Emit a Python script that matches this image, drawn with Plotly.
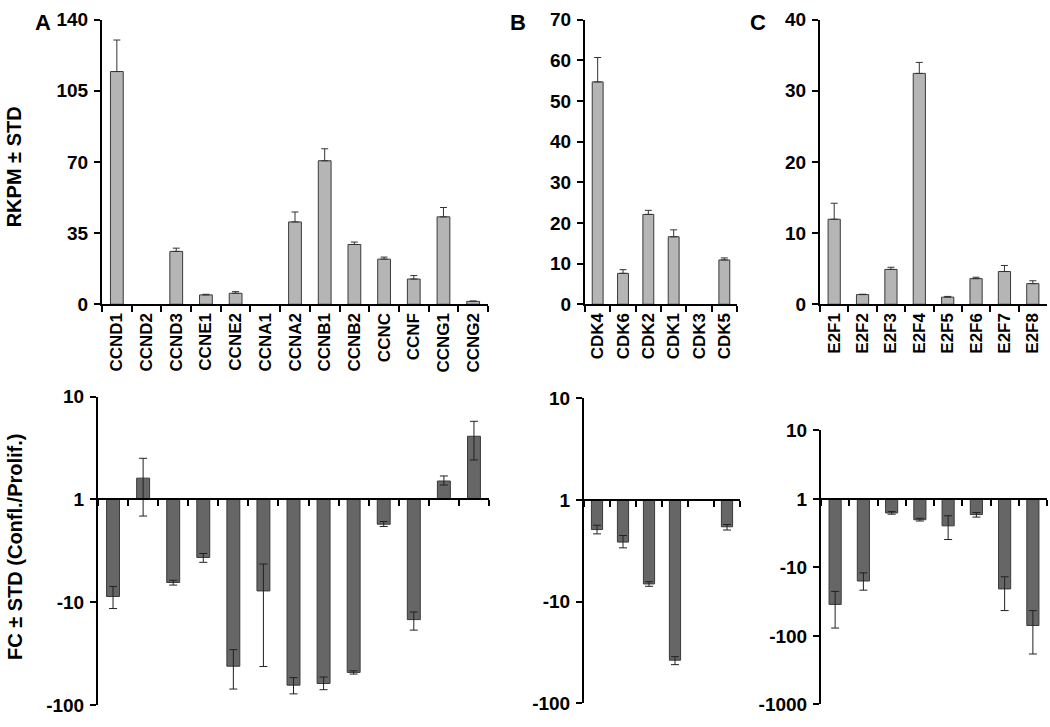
import numpy as np
import plotly.graph_objects as go

# ---------------- data ----------------
cyclins = ["CCND1", "CCND2", "CCND3", "CCNE1", "CCNE2", "CCNA1", "CCNA2",
           "CCNB1", "CCNB2", "CCNC", "CCNF", "CCNG1", "CCNG2"]
cyclin_rkpm = [114.5, 0, 26.0, 4.6, 5.4, 0, 40.5, 70.6, 29.4, 22.2, 12.4, 43.0, 1.4]
cyclin_std = [15.5, 0, 1.6, 0.3, 0.8, 0, 4.9, 5.9, 1.2, 1.0, 1.7, 4.6, 0.2]

cdks = ["CDK4", "CDK6", "CDK2", "CDK1", "CDK3", "CDK5"]
cdk_rkpm = [54.7, 7.6, 22.1, 16.6, 0, 10.9]
cdk_std = [6.0, 0.9, 1.0, 1.7, 0, 0.5]

e2fs = ["E2F1", "E2F2", "E2F3", "E2F4", "E2F5", "E2F6", "E2F7", "E2F8"]
e2f_rkpm = [11.95, 1.36, 4.9, 32.45, 1.0, 3.6, 4.6, 2.9]
e2f_std = [2.25, 0.05, 0.3, 1.55, 0.1, 0.2, 0.85, 0.4]

# fold change (Confl./Prolif.), with error-bar ends
cyclin_fc = [-8.77, 1.61, -6.41, -3.66, -41.7, -7.74, -63.7, -61.4, -47.9, -1.74, -14.7, 1.51, 4.11]
cyclin_fc_a = [-7.0, 2.51, -6.10, -3.35, -28.8, -4.24, -53.8, -53.1, -46.2, -1.64, -12.4, 1.69, 5.74]
cyclin_fc_b = [-11.48, -1.45, -6.79, -4.08, -69.5, -42.0, -77.4, -70.5, -49.7, -1.83, -18.6, 1.38, 2.42]

cdk_fc = [-1.95, -2.59, -6.68, -37.6, None, -1.83]
cdk_fc_a = [-1.77, -2.23, -6.35, -34.7, None, -1.74]
cdk_fc_b = [-2.15, -2.95, -7.05, -41.6, None, -1.97]

e2f_fc = [-34.7, -15.8, -1.60, -2.01, -2.47, -1.69, -20.6, -70.5]
e2f_fc_a = [-22.4, -12.0, -1.53, -1.92, -1.76, -1.58, -13.7, -42.7]
e2f_fc_b = [-76.9, -21.5, -1.67, -2.10, -3.91, -1.84, -42.7, -184.0]

rkpm_ticks_a = [0, 35, 70, 105, 140]
rkpm_ticks_b = [0, 10, 20, 30, 40, 50, 60, 70]
rkpm_ticks_c = [0, 10, 20, 30, 40]
fc_tick_vals = [10, 1, -10, -100, -1000]

# ---------------- styling ----------------
W, H = 1050, 727
FONT = "Liberation Sans, Arial, Helvetica, sans-serif"
TOP_FILL = "#b5b5b5"
BOT_FILL = "#666666"
EDGE = "#3a3a3a"


def xd(a, b):
    return [a / W, b / W]


def yd(top, bottom):
    return [1 - bottom / H, 1 - top / H]


def tr(v):
    if v is None:
        return None
    return float(np.sign(v) * np.log10(abs(v)))


def bold(s):
    return "<b>%s</b>" % s


fig = go.Figure()


def top_bar(cats, vals, stds, ax):
    fig.add_trace(go.Bar(
        x=cats, y=[v if v else None for v in vals], xaxis="x" + ax,
        yaxis="y" + ax, width=0.43,
        marker=dict(color=TOP_FILL, line=dict(color=EDGE, width=1)),
        error_y=dict(type="data", symmetric=False, array=stds,
                     arrayminus=[0] * len(stds), color="#333333",
                     thickness=1, width=3.5),
        showlegend=False, hoverinfo="x+y"))


def bot_bar(cats, fc, ea, eb, ax):
    t = [tr(v) for v in fc]
    ta = [tr(v) for v in ea]
    tb = [tr(v) for v in eb]
    plus, minus = [], []
    for v, a, b in zip(t, ta, tb):
        if v is None:
            plus.append(0); minus.append(0); continue
        hi, lo = max(a, b), min(a, b)
        plus.append(hi - v)
        minus.append(v - lo)
    fig.add_trace(go.Bar(
        x=cats, y=t, xaxis="x" + ax, yaxis="y" + ax, width=0.43,
        marker=dict(color=BOT_FILL, line=dict(color=EDGE, width=1)),
        error_y=dict(type="data", symmetric=False, array=plus,
                     arrayminus=minus, color="#222222", thickness=1, width=4),
        showlegend=False, customdata=fc,
        hovertemplate="%{x}: %{customdata}<extra></extra>"))


top_bar(cyclins, cyclin_rkpm, cyclin_std, "")
top_bar(cdks, cdk_rkpm, cdk_std, "2")
top_bar(e2fs, e2f_rkpm, e2f_std, "3")
bot_bar(cyclins, cyclin_fc, cyclin_fc_a, cyclin_fc_b, "4")
bot_bar(cdks, cdk_fc, cdk_fc_a, cdk_fc_b, "5")
bot_bar(e2fs, e2f_fc, e2f_fc_a, e2f_fc_b, "6")

tickfont = dict(family=FONT, size=19, color="black")
catfont = dict(family=FONT, size=17, color="black")

common_axis = dict(showline=True, linecolor="black", linewidth=2,
                   ticks="outside", tickcolor="black", tickwidth=2, ticklen=6,
                   showgrid=False, zeroline=False, fixedrange=True)

layout = dict(width=W, height=H, margin=dict(l=0, r=0, t=0, b=0),
              plot_bgcolor="white", paper_bgcolor="white")

top_y = yd(10, 303)
panels_top = [("", cyclins, (102, 488), [0, 140], rkpm_ticks_a),
              ("2", cdks, (585, 737), [0, 70], rkpm_ticks_b),
              ("3", e2fs, (820, 1047), [0, 40], rkpm_ticks_c)]
for ax, cats, (a, b), rng, tv in panels_top:
    layout["xaxis" + ax] = dict(common_axis, domain=xd(a, b), anchor="y" + ax,
                                type="category", categoryarray=cats,
                                categoryorder="array", tickson="boundaries",
                                tickvals=cats, ticktext=[bold(c) for c in cats],
                                tickangle=-90, tickfont=catfont,
                                range=[-0.5, len(cats) - 0.5])
    layout["yaxis" + ax] = dict(common_axis, domain=top_y, anchor="x" + ax,
                                range=rng, tickvals=tv,
                                ticktext=[bold(v) for v in tv],
                                tickfont=tickfont, ticklabelstandoff=2)

panels_bot = [("4", cyclins, (98, 489), (398, 716), [-2, 1]),
              ("5", cdks, (584, 740), (400, 714), [-2, 1]),
              ("6", e2fs, (821, 1047), (433, 715), [-3, 1])]
for ax, cats, (a, b), (ptop, pbot), rng in panels_bot:
    ydom = yd(ptop, pbot)
    frac0 = (0 - rng[0]) / (rng[1] - rng[0])
    pos = ydom[0] + frac0 * (ydom[1] - ydom[0])
    vals = [v for v in fc_tick_vals if rng[0] <= tr(v) <= rng[1]]
    layout["xaxis" + ax] = dict(common_axis, domain=xd(a, b), anchor="free",
                                position=pos, type="category",
                                categoryarray=cats, categoryorder="array",
                                tickson="boundaries", showticklabels=False,
                                range=[-0.5, len(cats) - 0.5])
    layout["yaxis" + ax] = dict(common_axis, domain=ydom, anchor="x" + ax,
                                range=rng, tickvals=[tr(v) for v in vals],
                                ticktext=[bold(v) for v in vals],
                                tickfont=tickfont, ticklabelstandoff=2)

fig.update_layout(**layout)

ann = []
for txt, x, y in [("A", 43, 13), ("B", 518, 13), ("C", 758, 13)]:
    ann.append(dict(text=bold(txt), x=x / W, y=1 - y / H, xref="paper",
                    yref="paper", showarrow=False, xanchor="center",
                    yanchor="middle",
                    font=dict(family=FONT, size=22, color="black")))
ann.append(dict(text=bold("RKPM ± STD"), x=14 / W, y=1 - 162 / H,
                xref="paper", yref="paper", showarrow=False, textangle=-90,
                xanchor="center", yanchor="middle",
                font=dict(family=FONT, size=20, color="black")))
ann.append(dict(text=bold("FC ± STD (Confl./Prolif.)"), x=15 / W,
                y=1 - 553 / H, xref="paper", yref="paper", showarrow=False,
                textangle=-90, xanchor="center", yanchor="middle",
                font=dict(family=FONT, size=20, color="black")))
fig.update_layout(annotations=ann)

fig.write_html("out.html", config={"displayModeBar": False},
               post_script="document.body.style.margin='0';"
                           "document.body.style.overflow='hidden';")
